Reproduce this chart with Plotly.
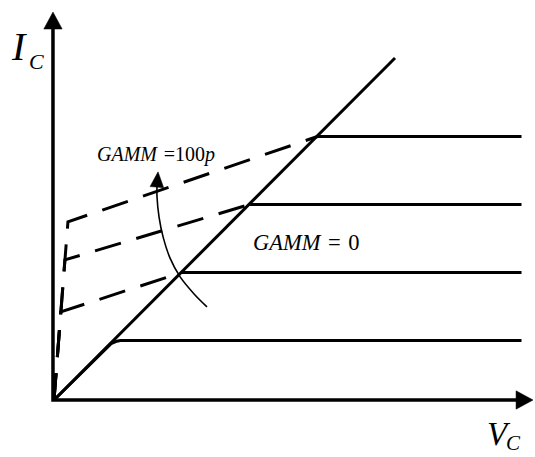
import numpy as np
import plotly.graph_objects as go

# Output-characteristic sketch of a transistor: I_C versus V_C
# Collector current plateaus of the four GAMM = 0 curves
ic_levels = [1.75, 3.75, 5.75, 7.75]
vc_max = 13.75

# Saturation boundary through the origin
boundary_v = [0.0, 10.03]
boundary_i = [0.0, 10.06]

# Rounded knee of the lowest GAMM = 0 curve
low_knee_v = [0.0, 1.50, 1.68, 1.85, 1.95]
low_knee_i = [0.0, 1.50, 1.66, 1.73, 1.75]

# GAMM = 100p curves: steep rise, then a sloped line up to the boundary
gamm_knee_v = [0.20, 0.32, 0.41]
gamm_knee_i = [2.59, 4.12, 5.24]
gamm_end = [3.75, 5.75, 7.75]

# Curved arrow pointing from the GAMM = 0 family to the GAMM = 100p family
arc_v = [4.50, 4.12, 3.71, 3.41, 3.21, 3.09, 3.03, 3.03, 3.06]
arc_i = [2.74, 3.12, 3.62, 4.18, 4.79, 5.38, 5.97, 6.32, 6.71]

# Axis arrows: vertical I_C axis and horizontal V_C axis
axis_v = [-0.03, -0.03, 14.09]
axis_i = [11.41, 0.0, 0.0]

BLACK = "#000000"
SERIF = "Liberation Serif, Times New Roman, serif"


def arrow_head(tip, prev, length, half):
    tip = np.asarray(tip, float)
    d = tip - np.asarray(prev, float)
    d /= np.hypot(*d)
    base = tip - d * length
    n = np.array([-d[1], d[0]])
    pts = [tip, base + n * half, base - n * half, tip]
    return [p[0] for p in pts], [p[1] for p in pts]


def shorten(tip, prev, amount):
    tip = np.asarray(tip, float)
    d = tip - np.asarray(prev, float)
    d /= np.hypot(*d)
    return tip - d * amount


fig = go.Figure()

# Axes with arrowheads
head_len, head_half = 0.5, 0.27
y_tip, y_prev = (axis_v[0], axis_i[0]), (axis_v[1], axis_i[1])
x_tip, x_prev = (axis_v[2], axis_i[2]), (axis_v[1], axis_i[1])
y_end = shorten(y_tip, y_prev, head_len * 0.8)
x_end = shorten(x_tip, x_prev, head_len * 0.8)
fig.add_trace(go.Scatter(
    x=[y_end[0], axis_v[1], x_end[0]], y=[y_end[1], axis_i[1], x_end[1]],
    mode="lines", line=dict(color=BLACK, width=3.5)))
for tip, prev in ((y_tip, y_prev), (x_tip, x_prev)):
    hx, hy = arrow_head(tip, prev, head_len, head_half)
    fig.add_trace(go.Scatter(x=hx, y=hy, mode="lines", fill="toself",
                             fillcolor=BLACK, line=dict(color=BLACK, width=0.5)))

# Saturation boundary
fig.add_trace(go.Scatter(x=boundary_v, y=boundary_i, mode="lines",
                         line=dict(color=BLACK, width=3)))

# GAMM = 0 curves (flat plateaus starting on the boundary)
for k, lvl in enumerate(ic_levels):
    if k == 0:
        xs = low_knee_v + [vc_max]
        ys = low_knee_i + [lvl]
    else:
        xs = [lvl, vc_max]
        ys = [lvl, lvl]
    fig.add_trace(go.Scatter(x=xs, y=ys, mode="lines",
                             line=dict(color=BLACK, width=3)))

# GAMM = 100p curves (dashed)
for kv, ki, end in zip(gamm_knee_v, gamm_knee_i, gamm_end):
    fig.add_trace(go.Scatter(x=[0.0, kv, end], y=[0.0, ki, end], mode="lines",
                             line=dict(color=BLACK, width=3, dash="27px,16px")))

# Curved arrow
fig.add_trace(go.Scatter(x=arc_v[:-1], y=arc_i[:-1], mode="lines",
                         line=dict(color=BLACK, width=1.6, shape="spline")))
hx, hy = arrow_head((arc_v[-1], arc_i[-1]), (arc_v[-2], arc_i[-2]), 0.45, 0.2)
fig.add_trace(go.Scatter(x=hx, y=hy, mode="lines", fill="toself",
                         fillcolor=BLACK, line=dict(color=BLACK, width=0.5)))

W, H = 535, 457


def label(text, px, py, size, xanchor="center", yanchor="middle"):
    fig.add_annotation(text=text, x=px / W, y=1 - py / H, xref="paper", yref="paper",
                       showarrow=False, xanchor=xanchor, yanchor=yanchor,
                       font=dict(family=SERIF, size=size, color=BLACK))


label("<i>I</i>", 19, 46, 40)
label("<i>C</i>", 36, 62, 22)
label("<i>V</i>", 499, 434, 33)
label("<i>C</i>", 513, H, 21, yanchor="bottom")
label("<i>GAMM</i>\u2004=100<i>p</i>", 95, 154, 20, xanchor="left")
label("<i>GAMM</i>\u2004=\u20040", 251, 242, 22.5, xanchor="left")

fig.update_layout(
    width=W, height=H, margin=dict(l=0, r=0, t=0, b=0),
    paper_bgcolor="white", plot_bgcolor="white", showlegend=False,
    xaxis=dict(range=[-54 / 34, 481 / 34], visible=False, fixedrange=True),
    yaxis=dict(range=[-57 / 34, 400 / 34], visible=False, fixedrange=True),
)

fig.write_html("out.html")
